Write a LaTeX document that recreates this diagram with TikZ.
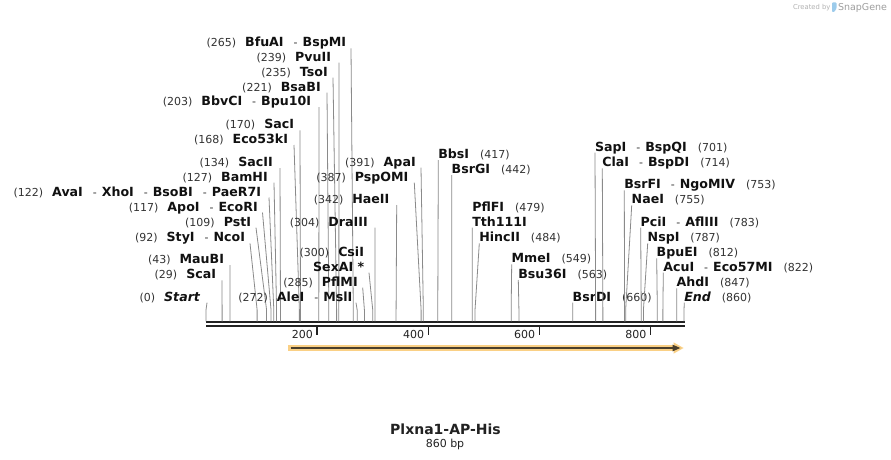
\documentclass[tikz,border=0pt]{standalone}
\usepackage{fontspec}
\setmainfont{DejaVu Sans}
\definecolor{numc}{HTML}{333333}
\definecolor{namec}{HTML}{111111}
\definecolor{cutc}{HTML}{8A8A8A}
\definecolor{seqc}{HTML}{222222}
\definecolor{featorange}{HTML}{FAD085}
\definecolor{featdark}{HTML}{4A3F2C}
\definecolor{logoc}{HTML}{9CCBEB}
\newcommand\lnum[1]{{\fontsize{11}{13}\selectfont\color{numc}#1}}
\newcommand\lname[1]{{\fontsize{12.6}{15}\selectfont\bfseries\color{namec}#1}}
\newcommand\ldash{\hspace{10pt}\lnum{-}\hspace{5pt}}
\newcommand\lgap{\hspace{9pt}}
\newcommand\rgap{\hspace{11pt}}
\newcommand\cutline[4]{%
  \coordinate (a#1) at (#2,#3);
  \coordinate (k#1) at ({206+#4*0.555814},310);
  \coordinate (s#1) at ({206+#4*0.555814},321.3);
  \draw[cut] (a#1) -- (k#1) -- (s#1);}
\tikzset{
  lab/.style={inner sep=0pt, outer sep=0pt},
  lleft/.style={lab, anchor=base east},
  lright/.style={lab, anchor=base west},
  cut/.style={draw=cutc, line width=0.8pt},
  seqline/.style={draw=seqc, line width=2.3pt},
  tick/.style={draw=seqc, line width=1.6pt},
  ticklab/.style={lab, anchor=base east, font=\fontsize{11}{13}\selectfont, text=seqc}
}
\begin{document}
\begin{tikzpicture}[x=1pt,y=-1pt]
\fill[white] (0,0) rectangle (891,460);
\useasboundingbox (0,0) rectangle (891,460);

% watermark
\node[lright, font=\fontsize{6.8}{8}\selectfont, text=black!30] (wm1) at (793,10) {Created by};
\fill[logoc, rounded corners=0.8pt] (832,2.5) -- (836.5,2.5) -- (836.5,8.5) -- (834.2,12) -- (832,12) -- cycle;
\node[lright, font=\fontsize{9.5}{11}\selectfont, text=black!38] (wm2) at (838,10.5) {SnapGene};

% sequence
\coordinate (sqL1) at (206,322.2); \coordinate (sqR1) at (684.5,322.2);
\coordinate (sqL2) at (206,326.2); \coordinate (sqR2) at (684.5,326.2);
\draw[seqline] (sqL1) -- (sqR1);
\draw[seqline] (sqL2) -- (sqR2);

% ticks
\foreach \t in {200,400,600,800}{
  \draw[tick] ({206+\t*0.555814},327.3) -- ({206+\t*0.555814},334.6);
  \node[ticklab] at ({206+\t*0.555814-4.3},338.3) {\t};
}

% feature arrow
\draw[featorange, line width=6pt] (288,348) -- (675,348);
\fill[featorange] (673.5,342.3) -- (683.5,348) -- (673.5,353.7) -- cycle;
\draw[featdark, line width=2pt] (290.5,348) -- (674,348);
\fill[featdark] (672.5,344.6) -- (680.3,348) -- (672.5,351.4) -- cycle;

% title
\node[lab, anchor=base] (title) at (445.5,434.1) {\fontsize{14}{16}\selectfont\bfseries\color{seqc}Plxna1-AP-His};
\node[lab, anchor=base] (bp) at (445,447.3) {\fontsize{11}{13}\selectfont\color{seqc}860 bp};

% ---- left group ----
\node[lleft] (n265) at (346,46.9) {\lnum{(265)}\lgap\lname{BfuAI}\ldash\lname{BspMI}};
\cutline{265}{351}{48.3}{265}
\node[lleft] (n239) at (331,61.3) {\lnum{(239)}\lgap\lname{PvuII}};
\cutline{239}{339}{62.7}{239}
\node[lleft] (n235) at (327.7,76.3) {\lnum{(235)}\lgap\lname{TsoI}};
\cutline{235}{333}{77.7}{235}
\node[lleft] (n221) at (320.7,91.3) {\lnum{(221)}\lgap\lname{BsaBI}};
\cutline{221}{327}{92.7}{221}
\node[lleft] (n203) at (311,105.6) {\lnum{(203)}\lgap\lname{BbvCI}\ldash\lname{Bpu10I}};
\cutline{203}{319}{107}{203}
\node[lleft] (n170) at (294,128.9) {\lnum{(170)}\lgap\lname{SacI}};
\cutline{170}{300}{130.3}{170}
\node[lleft] (n168) at (288,143.6) {\lnum{(168)}\lgap\lname{Eco53kI}};
\cutline{168}{294}{145}{168}
\node[lleft] (n134) at (272.7,166.6) {\lnum{(134)}\lgap\lname{SacII}};
\cutline{134}{280}{168}{134}
\node[lleft] (n127) at (267.7,181.3) {\lnum{(127)}\lgap\lname{BamHI}};
\cutline{127}{274}{182.7}{127}
\node[lleft] (n122) at (261,196.1) {\lnum{(122)}\lgap\lname{AvaI}\ldash\lname{XhoI}\ldash\lname{BsoBI}\ldash\lname{PaeR7I}};
\cutline{122}{269}{197.5}{122}
\node[lleft] (n117) at (257.7,211.1) {\lnum{(117)}\lgap\lname{ApoI}\ldash\lname{EcoRI}};
\cutline{117}{262.5}{212.5}{117}
\node[lleft] (n109) at (251,226.3) {\lnum{(109)}\lgap\lname{PstI}};
\cutline{109}{256}{227.7}{109}
\node[lleft] (n92) at (245,241.9) {\lnum{(92)}\lgap\lname{StyI}\ldash\lname{NcoI}};
\cutline{92}{250}{243.3}{92}
\node[lleft] (n43) at (224,263.6) {\lnum{(43)}\lgap\lname{MauBI}};
\cutline{43}{230}{265}{43}
\node[lleft] (n29) at (216,278.9) {\lnum{(29)}\lgap\lname{ScaI}};
\cutline{29}{222}{280.3}{29}
\node[lleft] (n0) at (200,301.3) {\lnum{(0)}\lgap\lname{\itshape Start}};
\cutline{0}{207}{302.7}{0}

% ---- middle group ----
\node[lleft] (n391) at (415.7,166.3) {\lnum{(391)}\lgap\lname{ApaI}};
\cutline{391}{421}{167.7}{391}
\node[lleft] (n387) at (408.3,181.3) {\lnum{(387)}\lgap\lname{PspOMI}};
\cutline{387}{414.3}{182.7}{387}
\node[lleft] (n342) at (389.3,203.6) {\lnum{(342)}\lgap\lname{HaeII}};
\cutline{342}{396.7}{205}{342}
\node[lleft] (n304) at (367.7,226.3) {\lnum{(304)}\lgap\lname{DraIII}};
\cutline{304}{375}{227.7}{304}
\node[lleft] (n300) at (364,256.3) {\lnum{(300)}\lgap\lname{CsiI}};
\node[lleft] (n300b) at (364.3,271.3) {\lname{SexAI *}};
\cutline{300}{369}{272.7}{300}
\node[lleft] (n285) at (357.7,286.3) {\lnum{(285)}\lgap\lname{PflMI}};
\cutline{285}{362.7}{287.7}{285}
\node[lleft] (n272) at (352.3,301.3) {\lnum{(272)}\lgap\lname{AleI}\ldash\lname{MslI}};
\cutline{272}{356}{302.7}{272}

% ---- right group ----
\node[lright] (n417) at (438.3,158.6) {\lname{BbsI}\rgap\lnum{(417)}};
\cutline{417}{438.3}{160}{417}
\node[lright] (n442) at (451.7,173.6) {\lname{BsrGI}\rgap\lnum{(442)}};
\cutline{442}{451.7}{175}{442}
\node[lright] (n479) at (472.3,211.3) {\lname{PflFI}\rgap\lnum{(479)}};
\node[lright] (n479b) at (472.3,226.3) {\lname{Tth111I}};
\cutline{479}{472.3}{227.7}{479}
\node[lright] (n484) at (479.3,241.9) {\lname{HincII}\rgap\lnum{(484)}};
\cutline{484}{479.3}{243.3}{484}
\node[lright] (n549) at (511.7,262.9) {\lname{MmeI}\rgap\lnum{(549)}};
\cutline{549}{511.7}{264.3}{549}
\node[lright] (n563) at (518.3,278.6) {\lname{Bsu36I}\rgap\lnum{(563)}};
\cutline{563}{518.3}{280}{563}
\node[lright] (n660) at (572.7,301.3) {\lname{BsrDI}\rgap\lnum{(660)}};
\cutline{660}{572.7}{302.7}{660}
\node[lright] (n701) at (595,151.3) {\lname{SapI}\ldash\lname{BspQI}\rgap\lnum{(701)}};
\cutline{701}{595}{152.7}{701}
\node[lright] (n714) at (602.3,166.9) {\lname{ClaI}\ldash\lname{BspDI}\rgap\lnum{(714)}};
\cutline{714}{602.3}{168.3}{714}
\node[lright] (n753) at (624.3,188.9) {\lname{BsrFI}\ldash\lname{NgoMIV}\rgap\lnum{(753)}};
\cutline{753}{624.3}{190.3}{753}
\node[lright] (n755) at (631.7,203.9) {\lname{NaeI}\rgap\lnum{(755)}};
\cutline{755}{631.7}{205.3}{755}
\node[lright] (n783) at (640.7,226.3) {\lname{PciI}\ldash\lname{AflIII}\rgap\lnum{(783)}};
\cutline{783}{640.7}{227.7}{783}
\node[lright] (n787) at (647.7,241.9) {\lname{NspI}\rgap\lnum{(787)}};
\cutline{787}{647.7}{243.3}{787}
\node[lright] (n812) at (656.7,256.9) {\lname{BpuEI}\rgap\lnum{(812)}};
\cutline{812}{656.7}{258.3}{812}
\node[lright] (n822) at (663.3,271.3) {\lname{AcuI}\ldash\lname{Eco57MI}\rgap\lnum{(822)}};
\cutline{822}{663.3}{272.7}{822}
\node[lright] (n847) at (676.7,286.9) {\lname{AhdI}\rgap\lnum{(847)}};
\cutline{847}{676.7}{288.3}{847}
\node[lright] (n860) at (684.3,301.3) {\lname{\itshape End}\rgap\lnum{(860)}};
\cutline{860}{684.3}{302.7}{860}
\end{tikzpicture}
\end{document}
